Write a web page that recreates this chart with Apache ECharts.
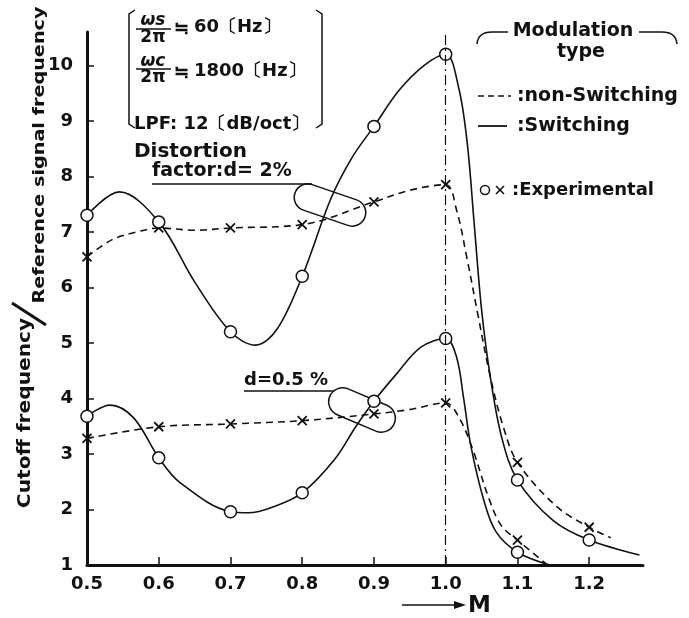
<!DOCTYPE html>
<html>
<head>
<meta charset="utf-8">
<script src="https://cdn.jsdelivr.net/npm/echarts@6/dist/echarts.min.js"></script>
<style>
html, body { margin: 0; padding: 0; background: #fff; }
#chart { width: 689px; height: 618px; }
</style>
</head>
<body>
<div id="chart"></div>
<script>
// axis ticks
const mTicks = [0.5, 0.6, 0.7, 0.8, 0.9, 1.0, 1.1, 1.2];
const ratioTicks = [1, 2, 3, 4, 5, 6, 7, 8, 9, 10];

// experimental points (o = switching, x = non-switching)
const expM = [0.5, 0.6, 0.7, 0.8, 0.9, 1.0, 1.1, 1.2];
const sw2Exp = [7.3, 7.18, 5.2, 6.2, 8.9, 10.2, 2.53, 1.45];
const ns2Exp = [6.55, 7.07, 7.07, 7.13, 7.54, 7.85, 2.85, 1.68];
const sw05Exp = [3.68, 2.93, 1.96, 2.3, 3.95, 5.08, 1.23];
const ns05Exp = [3.28, 3.49, 3.54, 3.6, 3.72, 3.92, 1.45];

// curves, d = 2 %
const sw2CurveM = [0.5, 0.545, 0.6, 0.65, 0.7, 0.735, 0.765, 0.8, 0.84, 0.87, 0.9, 0.935, 0.97, 1.0, 1.018, 1.03, 1.04, 1.05, 1.062, 1.078, 1.1, 1.15, 1.2, 1.27];
const sw2CurveV = [7.3, 7.72, 7.18, 6.1, 5.2, 4.96, 5.25, 6.2, 7.6, 8.35, 8.9, 9.55, 10.0, 10.2, 9.6, 8.6, 7.1, 5.6, 4.4, 3.3, 2.53, 1.8, 1.45, 1.18];
const ns2CurveM = [0.5, 0.535, 0.57, 0.6, 0.65, 0.7, 0.8, 0.9, 0.95, 1.0, 1.015, 1.03, 1.045, 1.062, 1.08, 1.1, 1.155, 1.2, 1.23];
const ns2CurveV = [6.55, 6.86, 7.0, 7.07, 7.03, 7.07, 7.13, 7.54, 7.75, 7.85, 7.4, 6.5, 5.5, 4.4, 3.5, 2.85, 2.05, 1.68, 1.49];

// curves, d = 0.5 %
const sw05CurveM = [0.5, 0.532, 0.565, 0.6, 0.63, 0.7, 0.725, 0.76, 0.8, 0.845, 0.875, 0.9, 0.93, 0.965, 1.0, 1.015, 1.025, 1.035, 1.053, 1.07, 1.1, 1.145];
const sw05CurveV = [3.68, 3.88, 3.65, 2.93, 2.48, 1.96, 1.94, 2.05, 2.3, 2.9, 3.5, 3.95, 4.42, 4.92, 5.08, 4.75, 4.0, 3.15, 2.17, 1.6, 1.23, 1.0];
const ns05CurveM = [0.5, 0.6, 0.7, 0.8, 0.9, 0.95, 1.0, 1.018, 1.038, 1.061, 1.078, 1.1, 1.14];
const ns05CurveV = [3.28, 3.49, 3.54, 3.6, 3.72, 3.8, 3.92, 3.67, 3.07, 2.17, 1.7, 1.45, 1.02];

const pairs = (xs, ys) => ys.map((y, i) => [xs[i], y]);
const FONT = '"DejaVu Sans", sans-serif';
const CJK = '"Noto Sans CJK JP", sans-serif';
const INK = '#111';

function curve(m, v, dashed, extra) {
    return Object.assign({
        type: 'line',
        data: pairs(m, v),
        smooth: 0.35,
        showSymbol: false,
        symbol: 'none',
        lineStyle: { color: INK, width: 1.6, type: dashed ? [7, 5] : 'solid' },
        silent: true,
        z: 2,
    }, extra || {});
}

function marks(m, v, isCircle) {
    return {
        type: 'scatter',
        data: pairs(m, v),
        symbol: isCircle ? 'circle' : 'path://M0,0L10,10M10,0L0,10',
        symbolSize: isCircle ? 12 : 9,
        itemStyle: isCircle
            ? { color: '#fff', borderColor: INK, borderWidth: 1.5, opacity: 1 }
            : { color: INK, borderColor: INK, borderWidth: 1.8, opacity: 1 },
        silent: true,
        z: 3,
    };
}

function txt(text, x, y, size, extra) {
    return {
        type: 'text', x: x, y: y, silent: true,
        style: Object.assign({
            text: text, font: 'bold ' + size + 'px ' + FONT, fill: INK,
            align: 'left', verticalAlign: 'middle',
        }, extra || {}),
    };
}

function seg(x1, y1, x2, y2, w, dash) {
    return {
        type: 'line', silent: true,
        shape: { x1: x1, y1: y1, x2: x2, y2: y2 },
        style: { stroke: INK, lineWidth: w || 1.5, lineDash: dash || null },
    };
}

function poly(points, w) {
    return {
        type: 'polyline', silent: true,
        shape: { points: points },
        style: { stroke: INK, lineWidth: w || 1.5, fill: null },
    };
}

function hook(x1, y1, cx, cy, x2, y2) {
    return {
        type: 'bezierCurve', silent: true,
        shape: { x1: x1, y1: y1, cpx1: cx, cpy1: cy, x2: x2, y2: y2 },
        style: { stroke: INK, lineWidth: 1.5, fill: null },
    };
}

function capsule(cx, cy, len, thick, rot) {
    return {
        type: 'group', x: cx, y: cy, rotation: rot, silent: true,
        children: [{
            type: 'rect',
            shape: { x: -len / 2, y: -thick / 2, width: len, height: thick, r: thick / 2 },
            style: { fill: null, stroke: INK, lineWidth: 1.5 },
        }],
    };
}

const graphics = [
    // y axis title
    { type: 'text', x: 25, y: 413, rotation: Math.PI / 2, scaleX: 1.12, silent: true,
      style: { text: 'Cutoff frequency', font: 'bold 18px ' + FONT, fill: INK, align: 'center', verticalAlign: 'middle' } },
    { type: 'text', x: 40, y: 155, rotation: Math.PI / 2, scaleX: 1.2, silent: true,
      style: { text: 'Reference signal frequency', font: 'bold 16px ' + FONT, fill: INK, align: 'center', verticalAlign: 'middle' } },
    seg(12, 303, 46, 325, 3),

    // conditions box
    poly([[135, 10], [129, 14], [129, 124], [135, 128]]),
    poly([[316, 10], [322, 14], [322, 124], [316, 128]]),
    txt('ωs', 153, 21, 17, { align: 'center', font: 'bold italic 17px ' + FONT }),
    seg(136, 29, 171, 29, 1.5),
    txt('2π', 153, 38, 17, { align: 'center' }),
    txt('≒', 174, 27, 18, { font: 'bold 18px ' + CJK }),
    txt('60〔Hz〕', 194, 27, 18),
    txt('ωc', 153, 62, 17, { align: 'center', font: 'bold italic 17px ' + FONT }),
    seg(136, 69, 171, 69, 1.5),
    txt('2π', 153, 78, 17, { align: 'center' }),
    txt('≒', 174, 71, 18, { font: 'bold 18px ' + CJK }),
    txt('1800〔Hz〕', 194, 71, 18),
    txt('LPF: 12〔dB/oct〕', 134, 124, 18),

    // d = 2 % annotation
    txt('Distortion', 134, 152, 20),
    txt('factor:d= 2%', 152, 171, 19),
    seg(152, 184, 312, 184, 1.5),
    capsule(330, 205, 74, 27, -0.33),

    // d = 0.5 % annotation
    txt('d=0.5 %', 244, 380, 18),
    seg(244, 391, 334, 391, 1.5),
    capsule(362, 410, 70, 28, -0.4),

    // legend
    txt('Modulation', 573, 31, 19, { align: 'center' }),
    txt('type', 581, 52, 19, { align: 'center' }),
    hook(477, 44, 478, 32, 492, 32),
    seg(492, 32, 508, 32, 1.5),
    seg(639, 32, 662, 32, 1.5),
    hook(662, 32, 676, 32, 677, 44),
    seg(478, 96, 511, 96, 1.6, [6, 4]),
    txt(':non-Switching', 517, 96, 19),
    seg(478, 126, 507, 126, 1.8),
    txt(':Switching', 517, 126, 19),
    { type: 'circle', silent: true, shape: { cx: 485, cy: 190, r: 4.5 },
      style: { fill: '#fff', stroke: INK, lineWidth: 1.5 } },
    seg(496, 186, 504, 194, 1.6),
    seg(504, 186, 496, 194, 1.6),
    txt(':Experimental', 512, 190, 18),

    // x axis name
    seg(402, 605, 458, 605, 1.5),
    { type: 'polygon', silent: true, shape: { points: [[466, 605], [454, 601], [454, 609]] },
      style: { fill: INK } },
    txt('M', 468, 606, 23),
];

const chart = echarts.init(document.getElementById('chart'));
chart.setOption({
    backgroundColor: '#fff',
    animation: false,
    grid: { left: 87, right: 46, top: 32, bottom: 53 },
    xAxis: {
        type: 'value',
        min: 0.5,
        max: 1.275,
        axisLine: { onZero: false, lineStyle: { color: INK, width: 3 } },
        axisTick: { inside: true, length: 8, customValues: mTicks, lineStyle: { color: INK, width: 1.5 } },
        axisLabel: {
            customValues: mTicks,
            margin: 10,
            color: INK,
            fontFamily: 'DejaVu Sans',
            fontWeight: 'bold',
            fontSize: 18,
            formatter: (v) => v.toFixed(1),
        },
        splitLine: { show: false },
    },
    yAxis: {
        type: 'value',
        min: 1,
        max: 10.6,
        axisLine: { onZero: false, lineStyle: { color: INK, width: 3 } },
        axisTick: { inside: true, length: 7, customValues: ratioTicks, lineStyle: { color: INK, width: 1.5 } },
        axisLabel: {
            customValues: ratioTicks,
            margin: 14,
            color: INK,
            fontFamily: 'DejaVu Sans',
            fontWeight: 'bold',
            fontSize: 18,
        },
        splitLine: { show: false },
    },
    series: [
        curve(sw2CurveM, sw2CurveV, false, {
            markLine: {
                silent: true,
                symbol: 'none',
                label: { show: false },
                lineStyle: { color: INK, width: 1.2, type: [10, 4, 2, 4] },
                data: [{ xAxis: 1.0 }],
            },
        }),
        curve(ns2CurveM, ns2CurveV, true),
        curve(sw05CurveM, sw05CurveV, false),
        curve(ns05CurveM, ns05CurveV, true),
        marks(expM, ns2Exp, false),
        marks(expM.slice(0, ns05Exp.length), ns05Exp, false),
        marks(expM, sw2Exp, true),
        marks(expM.slice(0, sw05Exp.length), sw05Exp, true),
    ],
    graphic: graphics,
});
</script>
</body>
</html>
